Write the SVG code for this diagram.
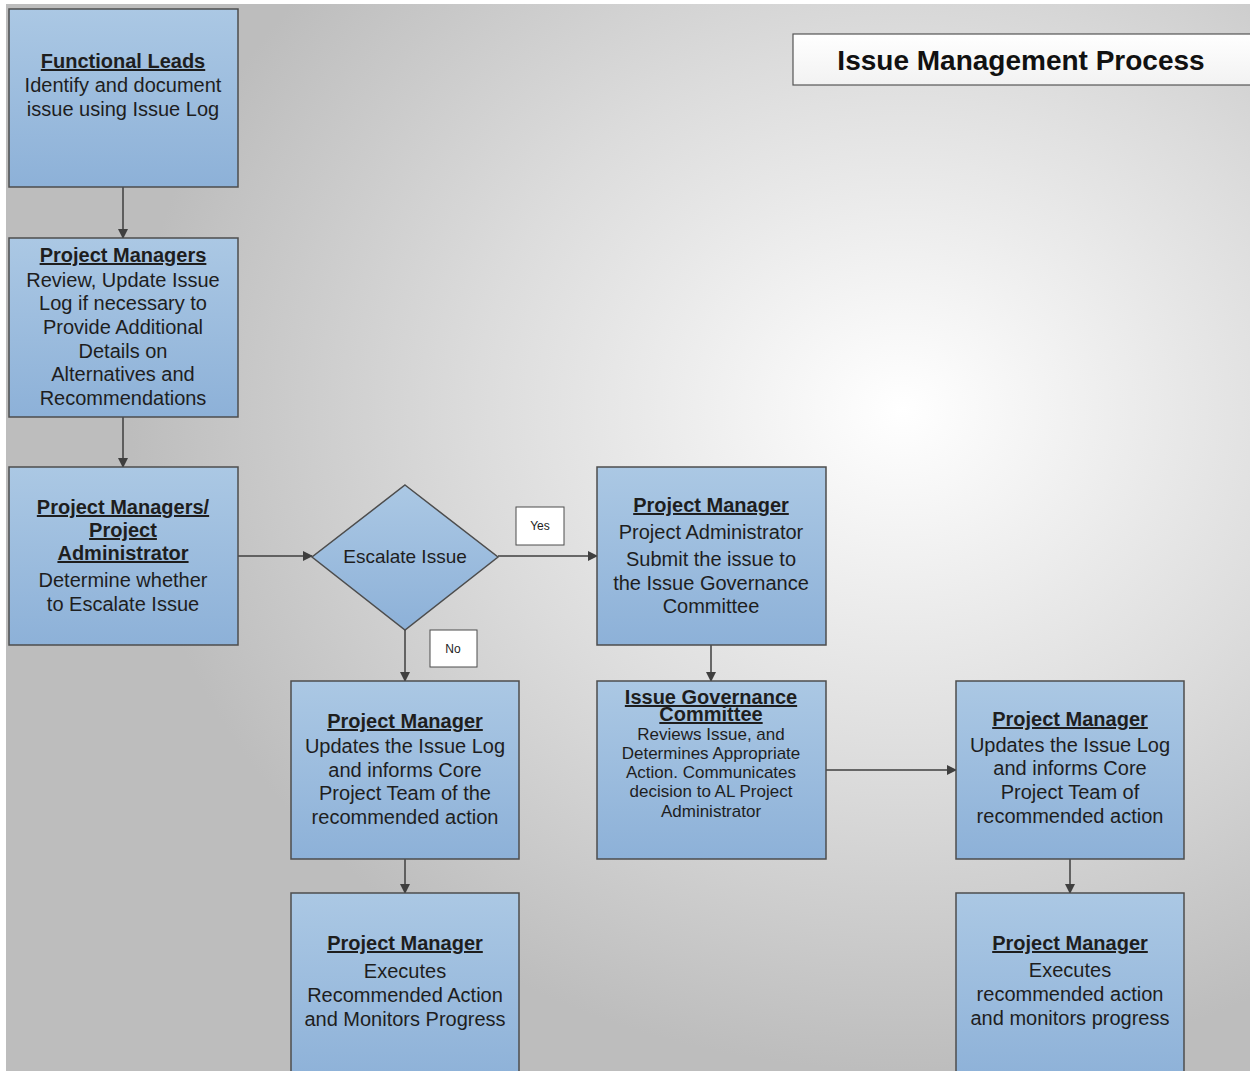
<svg xmlns="http://www.w3.org/2000/svg" width="1250" height="1071" viewBox="0 0 1250 1071">
<defs>
<radialGradient id="bg" cx="0.72" cy="0.38" r="0.62">
<stop offset="0" stop-color="#ffffff"/>
<stop offset="0.55" stop-color="#dcdcdc"/>
<stop offset="1" stop-color="#bdbdbd"/>
</radialGradient>
<linearGradient id="boxfill" x1="0" y1="0" x2="0" y2="1">
<stop offset="0" stop-color="#abc8e4"/>
<stop offset="1" stop-color="#8db1d8"/>
</linearGradient>
<linearGradient id="titlefill" x1="0" y1="0" x2="0" y2="1">
<stop offset="0" stop-color="#ffffff"/>
<stop offset="1" stop-color="#f2f2f2"/>
</linearGradient>
<marker id="arr" markerWidth="10" markerHeight="10" refX="9" refY="5" orient="auto" markerUnits="userSpaceOnUse">
<path d="M0,0 L10,5 L0,10 Z" fill="#3f3f3f"/>
</marker>
<style>
.box{fill:url(#boxfill);stroke:#4d4d4d;stroke-width:1.5}
.lbl{fill:#ffffff;stroke:#4d4d4d;stroke-width:1}
.t{font-family:"Liberation Sans",Arial,sans-serif;font-size:20px;fill:#1e1e1e;text-anchor:middle}
.h{font-weight:bold;text-decoration:underline}
.s{font-size:17px}
.sm{font-family:"Liberation Sans",Arial,sans-serif;font-size:12px;fill:#222;text-anchor:middle}
.conn{stroke:#3f3f3f;stroke-width:1.5;fill:none;marker-end:url(#arr)}
</style>
</defs>
<rect x="0" y="0" width="1250" height="1071" fill="#ffffff"/>
<rect x="6" y="4" width="1244" height="1067" fill="url(#bg)"/>

<g id="title">
<rect x="793" y="34" width="460" height="51" fill="url(#titlefill)" stroke="#555" stroke-width="1.2"/>
<text x="1021" y="70" class="t" style="font-size:28px;font-weight:bold;fill:#111">Issue Management Process</text>
</g>

<g id="connectors">
<line class="conn" x1="123" y1="187" x2="123" y2="238"/>
<line class="conn" x1="123" y1="417" x2="123" y2="467"/>
<line class="conn" x1="238" y1="556" x2="312" y2="556"/>
<line class="conn" x1="498" y1="556" x2="597" y2="556"/>
<line class="conn" x1="405" y1="630" x2="405" y2="681"/>
<line class="conn" x1="711" y1="645" x2="711" y2="681"/>
<line class="conn" x1="826" y1="770" x2="956" y2="770"/>
<line class="conn" x1="405" y1="859" x2="405" y2="893"/>
<line class="conn" x1="1070" y1="859" x2="1070" y2="893"/>
<g id="label-yes">
<rect class="lbl" x="516" y="507" width="48" height="38"/>
<text class="sm" x="540" y="530">Yes</text>
</g>
<g id="label-no">
<rect class="lbl" x="430" y="630" width="47" height="37"/>
<text class="sm" x="453" y="653">No</text>
</g>
</g>

<g id="functional-leads">
<rect class="box" x="9" y="9" width="229" height="178"/>
<text class="t" x="123"><tspan class="h" x="123" y="68">Functional Leads</tspan><tspan x="123" y="92">Identify and document</tspan><tspan x="123" y="116">issue using Issue Log</tspan></text>
</g>

<g id="project-managers">
<rect class="box" x="9" y="238" width="229" height="179"/>
<text class="t" x="123"><tspan class="h" x="123" y="262">Project Managers</tspan><tspan x="123" y="287">Review, Update Issue</tspan><tspan x="123" y="310">Log if necessary to</tspan><tspan x="123" y="334">Provide Additional</tspan><tspan x="123" y="358">Details on</tspan><tspan x="123" y="381">Alternatives and</tspan><tspan x="123" y="405">Recommendations</tspan></text>
</g>

<g id="pm-admin">
<rect class="box" x="9" y="467" width="229" height="178"/>
<text class="t" x="123"><tspan class="h" x="123" y="514">Project Managers/</tspan><tspan class="h" x="123" y="537">Project</tspan><tspan class="h" x="123" y="560">Administrator</tspan><tspan x="123" y="587">Determine whether</tspan><tspan x="123" y="611">to Escalate Issue</tspan></text>
</g>

<g id="escalate">
<polygon class="box" points="405,485 498,557 405,630 312,557"/>
<text class="t" x="405" y="563" style="font-size:19px">Escalate Issue</text>
</g>

<g id="pm-submit">
<rect class="box" x="597" y="467" width="229" height="178"/>
<text class="t" x="711"><tspan class="h" x="711" y="512">Project Manager</tspan><tspan x="711" y="539">Project Administrator</tspan><tspan x="711" y="566">Submit the issue to</tspan><tspan x="711" y="590">the Issue Governance</tspan><tspan x="711" y="613">Committee</tspan></text>
</g>

<g id="governance">
<rect class="box" x="597" y="681" width="229" height="178"/>
<text class="t" x="711"><tspan class="h" x="711" y="704">Issue Governance</tspan><tspan class="h" x="711" y="721">Committee</tspan><tspan class="s" x="711" y="740">Reviews Issue, and</tspan><tspan class="s" x="711" y="759">Determines Appropriate</tspan><tspan class="s" x="711" y="778">Action. Communicates</tspan><tspan class="s" x="711" y="797">decision to AL Project</tspan><tspan class="s" x="711" y="817">Administrator</tspan></text>
</g>

<g id="pm-update-no">
<rect class="box" x="291" y="681" width="228" height="178"/>
<text class="t" x="405"><tspan class="h" x="405" y="728">Project Manager</tspan><tspan x="405" y="753">Updates the Issue Log</tspan><tspan x="405" y="777">and informs Core</tspan><tspan x="405" y="800">Project Team of the</tspan><tspan x="405" y="824">recommended action</tspan></text>
</g>

<g id="pm-execute-no">
<rect class="box" x="291" y="893" width="228" height="190"/>
<text class="t" x="405"><tspan class="h" x="405" y="950">Project Manager</tspan><tspan x="405" y="978">Executes</tspan><tspan x="405" y="1002">Recommended Action</tspan><tspan x="405" y="1026">and Monitors Progress</tspan></text>
</g>

<g id="pm-update-yes">
<rect class="box" x="956" y="681" width="228" height="178"/>
<text class="t" x="1070"><tspan class="h" x="1070" y="726">Project Manager</tspan><tspan x="1070" y="752">Updates the Issue Log</tspan><tspan x="1070" y="775">and informs Core</tspan><tspan x="1070" y="799">Project Team of</tspan><tspan x="1070" y="823">recommended action</tspan></text>
</g>

<g id="pm-execute-yes">
<rect class="box" x="956" y="893" width="228" height="190"/>
<text class="t" x="1070"><tspan class="h" x="1070" y="950">Project Manager</tspan><tspan x="1070" y="977">Executes</tspan><tspan x="1070" y="1001">recommended action</tspan><tspan x="1070" y="1025">and monitors progress</tspan></text>
</g>
</svg>
